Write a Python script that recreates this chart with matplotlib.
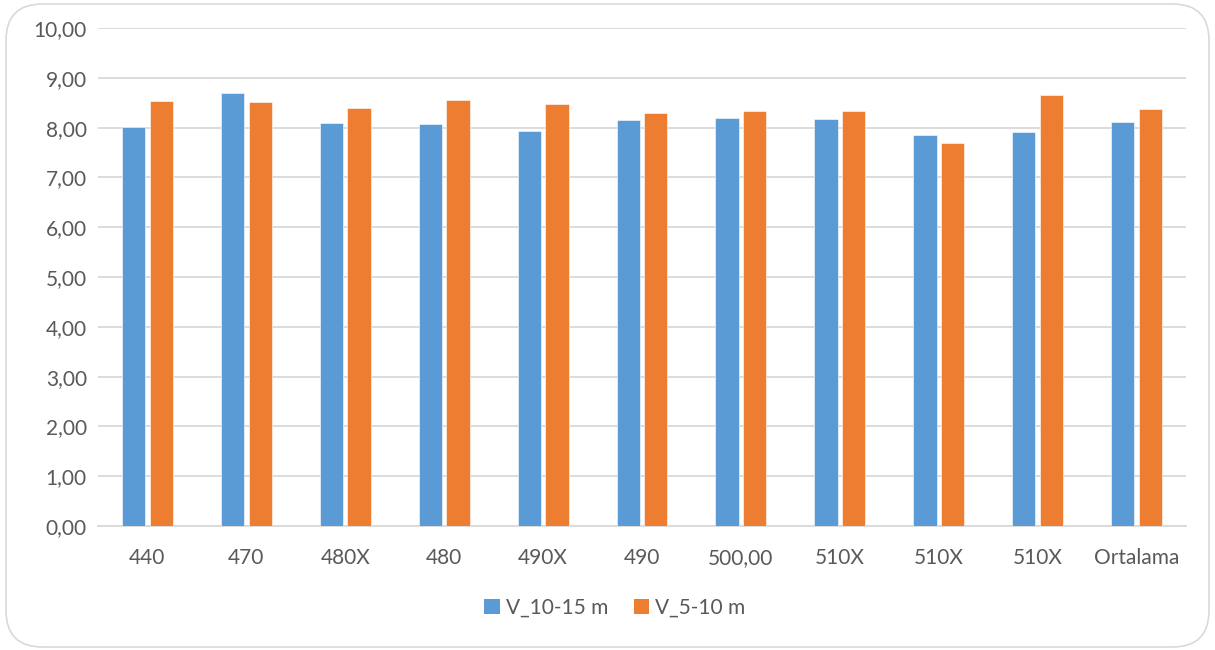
import matplotlib
matplotlib.use("Agg")
import matplotlib.pyplot as plt
from matplotlib.patches import FancyBboxPatch, Patch
from matplotlib.ticker import FuncFormatter
import numpy as np

categories = ["440", "470", "480X", "480", "490X", "490", "500,00", "510X", "510X", "510X", "Ortalama"]
v_10_15 = [8.02, 8.69, 8.09, 8.07, 7.93, 8.15, 8.20, 8.18, 7.85, 7.91, 8.11]
v_5_10 = [8.54, 8.52, 8.40, 8.56, 8.47, 8.29, 8.33, 8.33, 7.69, 8.65, 8.38]
series_names = ["V_10-15 m", "V_5-10 m"]
colors = ["#5B9BD5", "#ED7D31"]

plt.rcParams['font.family'] = ['Lato', 'DejaVu Sans']
W, H = 1215, 650
fig = plt.figure(figsize=(W / 100, H / 100), dpi=100)

border = FancyBboxPatch((6 / W, 3 / H), (W - 12) / W, (H - 7) / H,
                        boxstyle="round,pad=0,rounding_size=0.03",
                        transform=fig.transFigure, facecolor="none",
                        edgecolor="#D9D9D9", linewidth=1.2, mutation_aspect=W / H,
                        zorder=-10)
fig.patches.append(border)

left, right, top, bottom = 98, 1186, 28, 526
ax = fig.add_axes([left / W, (H - bottom) / H, (right - left) / W, (bottom - top) / H])
ax.set_facecolor("none")

x = np.arange(len(categories))
bw = 0.235
off = 0.14
ax.bar(x - off, v_10_15, bw, color=colors[0], edgecolor="white", linewidth=0.4, zorder=3)
ax.bar(x + off, v_5_10, bw, color=colors[1], edgecolor="white", linewidth=0.4, zorder=3)

ax.set_xlim(-0.5, len(categories) - 0.5)
ax.set_ylim(0, 10)
ax.set_yticks(np.arange(0, 11, 1))
ax.yaxis.set_major_formatter(FuncFormatter(lambda v, p: f"{v:.2f}".replace(".", ",")))
ax.set_xticks(x)
ax.set_xticklabels(categories)
ax.grid(axis="y", color="#D9D9D9", linewidth=1.3, zorder=0)
for s in ["top", "right", "left"]:
    ax.spines[s].set_visible(False)
ax.spines["bottom"].set_color("#D9D9D9")
ax.spines["bottom"].set_linewidth(1.3)
ax.tick_params(axis="both", length=0, labelsize=15, labelcolor="#595959")
ax.tick_params(axis="x", pad=16)
ax.tick_params(axis="y", pad=8)

handles = [Patch(facecolor=c, edgecolor="none") for c in colors]
fig.legend(handles, series_names, loc="center", bbox_to_anchor=(615 / W, 1 - 608 / H),
           ncol=2, frameon=False, fontsize=15, labelcolor="#595959",
           handlelength=0.75, handleheight=0.75, handletextpad=0.3, columnspacing=1.2)

fig.savefig("out.png", dpi=100)
